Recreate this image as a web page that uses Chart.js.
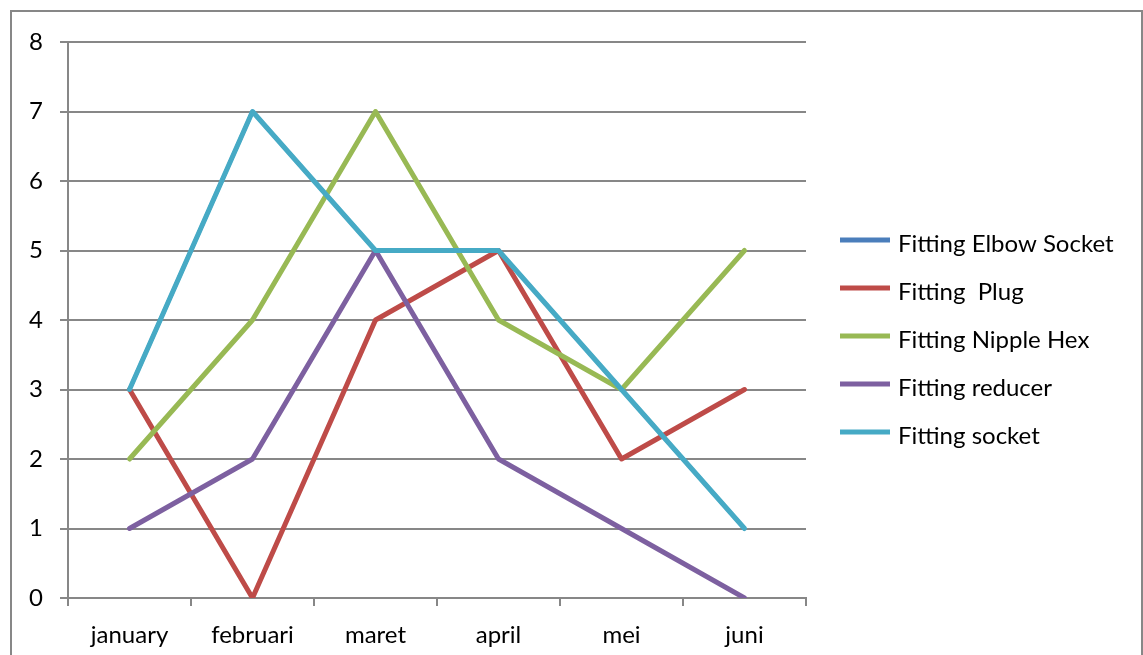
<!DOCTYPE html>
<html>
<head>
<meta charset="utf-8">
<script src="https://cdn.jsdelivr.net/npm/chart.js@4/dist/chart.umd.min.js"></script>
<style>
  html, body { margin: 0; padding: 0; background: #fff; overflow: hidden; }
  #wrap { position: relative; width: 1143px; height: 655px; }
  #frame { position: absolute; left: 10px; top: 10px; width: 1133px; height: 700px;
           border: 2px solid #878787; box-sizing: border-box; }
  #c { position: absolute; left: 0; top: 0; }
</style>
</head>
<body>
<div id="wrap">
  <div id="frame"></div>
  <canvas id="c" width="1143" height="655"></canvas>
</div>
<script>
// Monthly counts per fitting type
const months = ['january', 'februari', 'maret', 'april', 'mei', 'juni'];
const elbowSocket = [3, 7, 5, 5, 3, 1];
const plug = [3, 0, 4, 5, 2, 3];
const nippleHex = [2, 4, 7, 4, 3, 5];
const reducer = [1, 2, 5, 2, 1, 0];
const socket = [3, 7, 5, 5, 3, 1];
const yTicks = [0, 1, 2, 3, 4, 5, 6, 7, 8];

const FONT = 'Lato, "Liberation Sans", sans-serif';
const GRID = '#878787';

const series = [
  { label: 'Fitting Elbow Socket', data: elbowSocket, color: '#4A7EBB' },
  { label: 'Fitting  Plug', data: plug, color: '#BE4B48' },
  { label: 'Fitting Nipple Hex', data: nippleHex, color: '#98B954' },
  { label: 'Fitting reducer', data: reducer, color: '#7D60A0' },
  { label: 'Fitting socket', data: socket, color: '#46AAC5' }
];

// Legend drawn to the right of the plot, one line sample per series
const sideLegend = {
  id: 'sideLegend',
  afterDraw(chart) {
    const ctx = chart.ctx;
    ctx.save();
    ctx.font = '24px ' + FONT;
    ctx.textAlign = 'left';
    ctx.textBaseline = 'alphabetic';
    chart.data.datasets.forEach((ds, i) => {
      const y = 240 + i * 48;
      ctx.strokeStyle = ds.borderColor;
      ctx.lineWidth = 5;
      ctx.lineCap = 'butt';
      ctx.beginPath();
      ctx.moveTo(840, y);
      ctx.lineTo(890, y);
      ctx.stroke();
      ctx.fillStyle = '#000';
      ctx.fillText(ds.label, 898, y + 12);
    });
    ctx.restore();
  }
};

new Chart(document.getElementById('c'), {
  type: 'line',
  data: {
    labels: months,
    datasets: series.map((s, i) => ({
      label: s.label,
      data: s.data,
      borderColor: s.color,
      backgroundColor: s.color,
      borderWidth: i === 0 ? 4 : 5,
      borderJoinStyle: 'round',
      borderCapStyle: 'round',
      pointRadius: 0,
      pointHoverRadius: 0,
      tension: 0,
      fill: false,
      order: series.length - 1 - i
    }))
  },
  options: {
    responsive: false,
    animation: false,
    devicePixelRatio: 1,
    layout: { padding: { left: 0, top: 42, right: 337, bottom: 0 } },
    plugins: { legend: { display: false }, tooltip: { enabled: false } },
    scales: {
      x: {
        offset: true,
        grid: { offset: true, drawOnChartArea: false, drawTicks: true, tickLength: 8, color: GRID, lineWidth: 2 },
        border: { display: true, color: GRID, width: 2 },
        ticks: { color: '#000', font: { family: FONT, size: 24 }, padding: 15, maxRotation: 0 },
        afterFit(scale) { scale.height = 57; }
      },
      y: {
        min: 0,
        max: 8,
        afterBuildTicks(scale) { scale.ticks = yTicks.map(v => ({ value: v })); },
        grid: { color: GRID, lineWidth: 2, tickLength: 8, drawTicks: true },
        border: { display: true, color: GRID, width: 2 },
        ticks: { color: '#000', font: { family: FONT, size: 24 }, padding: 17 },
        afterFit(scale) { scale.width = 68; }
      }
    }
  },
  plugins: [sideLegend]
});
</script>
</body>
</html>
